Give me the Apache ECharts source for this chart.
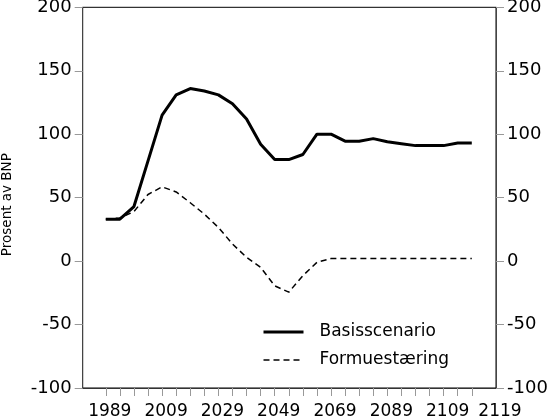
<!DOCTYPE html>
<html>
<head>
<meta charset="utf-8">
<script src="https://cdn.jsdelivr.net/npm/echarts@6/dist/echarts.min.js"></script>
<style>
    html, body { margin: 0; padding: 0; background: #fff; }
    #chart { width: 549px; height: 420px; }
</style>
</head>
<body>
<div id="chart"></div>
<script>
// år (hvert 5. år)
const years = [1989, 1994, 1999, 2004, 2009, 2014, 2019, 2024, 2029, 2034, 2039, 2044, 2049, 2054,
    2059, 2064, 2069, 2074, 2079, 2084, 2089, 2094, 2099, 2104, 2109, 2114, 2119];

// Basisscenario
const basis = [33, 33, 43, 79, 115, 131, 136, 134, 131, 124, 112, 92, 80, 80,
    84, 100, 100, 94.5, 94.5, 96.5, 94, 92.5, 91, 91, 91, 93, 93];

// Formuestæring
const formue = [33, 34, 39, 52.5, 58.5, 54.5, 46, 37, 26.5, 13.5, 3, -5, -19.5, -24.5,
    -11.5, -1, 2, 2, 2, 2, 2, 2, 2, 2, 2, 2, 2];

// x-aksens etiketter
const xLabelYears = [1989, 2009, 2029, 2049, 2069, 2089, 2109];
const xLastLabel = '2119';

const FONT = 'DejaVu Sans';
const X_MIN = 1980.8;
const X_MAX = 2127.6;

let chart = echarts.init(document.getElementById('chart'));

// y-akser, venstre og høyre
function yAxis(pos) {
    return {
        type: 'value',
        position: pos,
        min: -100,
        max: 200,
        interval: 50,
        name: pos === 'left' ? 'Prosent av BNP' : '',
        nameLocation: 'middle',
        nameGap: 68,
        nameRotate: 90,
        nameTextStyle: { fontFamily: FONT, fontSize: 13.5, color: '#000', padding: [0, 14, 0, 0] },
        axisLine: { show: true, onZero: false, lineStyle: { color: '#444', width: 1 } },
        axisTick: { show: true, length: 8, lineStyle: { color: '#999' } },
        axisLabel: { margin: 11, fontFamily: FONT, fontSize: 18, color: '#000' },
        splitLine: { show: false }
    };
}

let option = {
    animation: false,
    backgroundColor: '#fff',
    grid: {
        left: 82.7,
        right: 53,
        top: 7.3,
        bottom: 32,
        containLabel: false,
        outerBoundsMode: 'none',
        show: true,
        borderColor: '#000',
        borderWidth: 1,
        backgroundColor: 'transparent'
    },
    legend: {
        orient: 'vertical',
        left: 257,
        top: 317,
        itemWidth: 40,
        itemHeight: 14,
        itemGap: 8,
        itemStyle: { opacity: 0 },
        textStyle: { fontFamily: FONT, fontSize: 17, color: '#000', lineHeight: 20, padding: [0, 0, 0, 11] },
        data: [
            { name: 'Basisscenario', lineStyle: { width: 3 } },
            { name: 'Formuestæring', lineStyle: { width: 1.5 } }
        ]
    },
    xAxis: {
        type: 'value',
        min: X_MIN,
        max: X_MAX,
        axisLine: { show: true, onZero: false, lineStyle: { color: '#333' } },
        axisTick: {
            show: true,
            length: 8,
            lineStyle: { color: '#999' },
            customValues: years
        },
        axisLabel: {
            margin: 15,
            fontFamily: FONT,
            fontSize: 17,
            color: '#000',
            padding: [0, 0, 0, 8],
            customValues: xLabelYears.concat([X_MAX]),
            formatter: v => (v === X_MAX ? xLastLabel : String(v))
        },
        splitLine: { show: false }
    },
    yAxis: [yAxis('left'), yAxis('right')],
    series: [
        {
            name: 'Basisscenario',
            type: 'line',
            symbol: 'none',
            data: years.map((y, i) => [y, basis[i]]),
            lineStyle: { color: '#000', width: 3 },
            itemStyle: { color: '#000' }
        },
        {
            name: 'Formuestæring',
            type: 'line',
            symbol: 'none',
            data: years.map((y, i) => [y, formue[i]]),
            lineStyle: { color: '#000', width: 1.5, type: [6, 4] },
            itemStyle: { color: '#000' }
        }
    ]
};

chart.setOption(option);
</script>
</body>
</html>
